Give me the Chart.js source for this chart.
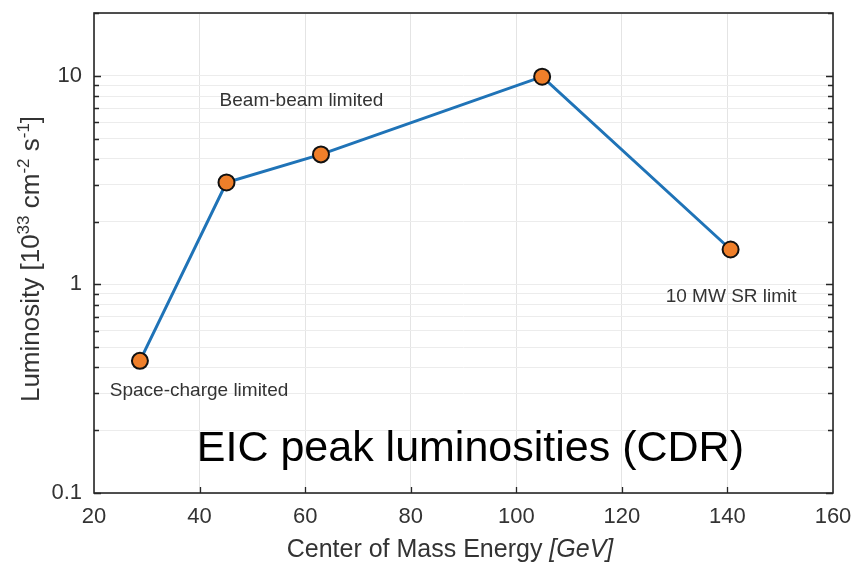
<!DOCTYPE html>
<html>
<head>
<meta charset="utf-8">
<script src="https://cdn.jsdelivr.net/npm/chart.js@4"></script>
<style>
  html, body { margin: 0; padding: 0; background: #fff; }
  #wrap { width: 856px; height: 566px; }
</style>
</head>
<body>
<div id="wrap"><canvas id="grafico"></canvas></div>
<script>
// dados
const energias = [28.7, 45.1, 63.0, 104.9, 140.6];
const luminosidades = [0.43, 3.08, 4.2, 9.9, 1.47];
const ticksX = [20, 40, 60, 80, 100, 120, 140, 160];
const ticksY = [0.1, 0.2, 0.3, 0.4, 0.5, 0.6, 0.7, 0.8, 0.9,
                1, 2, 3, 4, 5, 6, 7, 8, 9, 10, 20];
const rotulosY = [0.1, 1, 10];

const fonte = '"Liberation Sans", Arial, sans-serif';

// textos dentro do grafico (posicao em coordenadas dos eixos)
const anotacoes = [
    { texto: 'Beam-beam limited', x: 59.3, y: 7.6, tamanho: 19, cor: '#333' },
    { texto: 'Space-charge limited', x: 39.9, y: 0.31, tamanho: 19, cor: '#333' },
    { texto: '10 MW SR limit', x: 140.7, y: 0.877, tamanho: 19, cor: '#333' },
    { texto: 'EIC peak luminosities (CDR)', x: 91.3, y: 0.163, tamanho: 43, cor: '#000' }
];

// titulo do eixo y: [texto, sobrescrito?]
const tituloY = [['Luminosity [10', false], ['33', true], [' cm', false], ['-2', true],
                 [' s', false], ['-1', true], [']', false]];

const semPadding = scale => {
    scale.paddingTop = 0; scale.paddingBottom = 0;
    scale.paddingLeft = 0; scale.paddingRight = 0;
};

const molduraPlugin = {
    id: 'moldura',
    afterDraw(chart) {
        const ctx = chart.ctx;
        const area = chart.chartArea;
        const sx = chart.scales.x;
        const sy = chart.scales.y;
        ctx.save();

        // anotacoes
        ctx.textAlign = 'center';
        ctx.textBaseline = 'middle';
        anotacoes.forEach(a => {
            ctx.font = a.tamanho + 'px ' + fonte;
            ctx.fillStyle = a.cor;
            ctx.fillText(a.texto, sx.getPixelForValue(a.x), sy.getPixelForValue(a.y));
        });

        // marcas para dentro
        ctx.strokeStyle = '#262626';
        ctx.lineWidth = 1.3;
        ctx.beginPath();
        ticksY.forEach(v => {
            const py = Math.round(sy.getPixelForValue(v)) + 0.5;
            const len = rotulosY.includes(v) ? 7 : 5;
            ctx.moveTo(area.left, py); ctx.lineTo(area.left + len, py);
            ctx.moveTo(area.right, py); ctx.lineTo(area.right - len, py);
        });
        ticksX.slice(1, -1).forEach(v => {
            const px = Math.round(sx.getPixelForValue(v)) + 0.5;
            ctx.moveTo(px, area.bottom); ctx.lineTo(px, area.bottom - 6);
        });
        ctx.stroke();

        // caixa
        ctx.lineWidth = 1.6;
        ctx.strokeRect(area.left, area.top, area.right - area.left, area.bottom - area.top);

        // titulo eixo x
        ctx.fillStyle = '#333';
        ctx.textBaseline = 'middle';
        ctx.textAlign = 'left';
        const parte1 = 'Center of Mass Energy ';
        const parte2 = '[GeV]';
        ctx.font = '25px ' + fonte;
        const w1 = ctx.measureText(parte1).width;
        ctx.font = 'italic 25px ' + fonte;
        const w2 = ctx.measureText(parte2).width;
        const inicio = 450 - (w1 + w2) / 2;
        ctx.font = '25px ' + fonte;
        ctx.fillText(parte1, inicio, 550);
        ctx.font = 'italic 25px ' + fonte;
        ctx.fillText(parte2, inicio + w1, 550);

        // titulo eixo y
        ctx.translate(30, 259);
        ctx.rotate(-Math.PI / 2);
        ctx.textBaseline = 'alphabetic';
        let total = 0;
        tituloY.forEach(([t, sup]) => {
            ctx.font = (sup ? 17 : 26) + 'px ' + fonte;
            total += ctx.measureText(t).width;
        });
        let pos = -total / 2;
        tituloY.forEach(([t, sup]) => {
            ctx.font = (sup ? 17 : 26) + 'px ' + fonte;
            ctx.fillText(t, pos, sup ? -1 : 9);
            pos += ctx.measureText(t).width;
        });
        ctx.restore();
    }
};

const grafico = new Chart(document.getElementById('grafico'), {
    type: 'line',
    data: {
        datasets: [{
            label: 'EIC',
            data: energias.map((e, i) => ({ x: e, y: luminosidades[i] })),
            borderColor: '#1f73b7',
            borderWidth: 3,
            pointRadius: 8,
            pointBorderWidth: 2,
            pointBackgroundColor: '#ef7f2a',
            pointBorderColor: '#111',
            tension: 0
        }]
    },
    options: {
        responsive: true,
        maintainAspectRatio: false,
        animation: false,
        layout: { padding: { top: 13, right: 23, left: 0, bottom: 0 } },
        plugins: { legend: { display: false }, tooltip: { enabled: false } },
        scales: {
            x: {
                type: 'linear',
                min: 20,
                max: 160,
                afterBuildTicks: scale => { scale.ticks = ticksX.map(v => ({ value: v })); },
                afterFit: scale => { scale.height = 73; semPadding(scale); },
                grid: { color: '#e4e4e4', drawTicks: false, lineWidth: 1 },
                border: { display: false },
                ticks: {
                    padding: 11,
                    color: '#333',
                    font: { family: fonte, size: 22 },
                    maxRotation: 0
                }
            },
            y: {
                type: 'logarithmic',
                min: 0.1,
                max: 20,
                afterBuildTicks: scale => { scale.ticks = ticksY.map(v => ({ value: v })); },
                afterFit: scale => { scale.width = 94; semPadding(scale); },
                grid: { color: '#ececec', drawTicks: false, lineWidth: 1 },
                border: { display: false },
                ticks: {
                    autoSkip: false,
                    padding: 12,
                    color: '#333',
                    font: { family: fonte, size: 22 },
                    callback: v => rotulosY.includes(v) ? String(v) : ''
                }
            }
        }
    },
    plugins: [molduraPlugin]
});
</script>
</body>
</html>
